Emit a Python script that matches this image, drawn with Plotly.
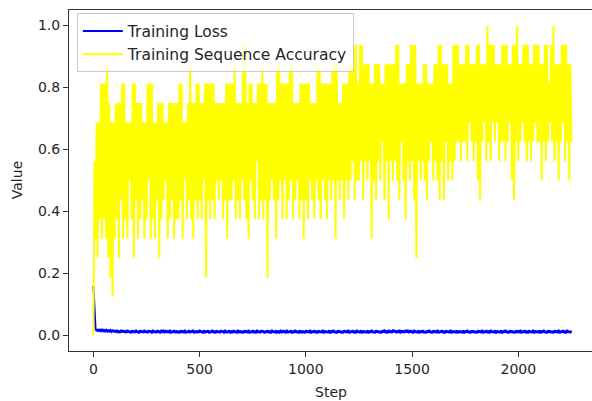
import plotly.graph_objects as go

# Steps sampled every 5 training steps (0 .. 2250)
step_interval = 5

# Training sequence accuracy in sixteenths (batch of 16 sequences)
acc_sixteenths = [
    0, 9, 5, 11, 4, 11, 6, 13, 5, 13,
    6, 13, 5, 14, 4, 12, 3, 11, 2, 11,
    5, 12, 6, 12, 4, 12, 7, 13, 5, 13,
    6, 11, 5, 11, 8, 11, 6, 13, 4, 13,
    7, 12, 5, 12, 6, 12, 7, 11, 5, 11,
    6, 13, 8, 13, 5, 13, 6, 11, 5, 11,
    7, 12, 4, 12, 6, 12, 7, 11, 8, 11,
    5, 12, 6, 12, 7, 12, 5, 12, 6, 12,
    6, 13, 7, 13, 5, 11, 8, 11, 6, 12,
    7, 14, 6, 12, 5, 12, 7, 13, 6, 13,
    7, 12, 6, 12, 8, 13, 3, 13, 7, 13,
    6, 13, 7, 13, 6, 12, 8, 12, 7, 12,
    8, 12, 6, 12, 7, 13, 5, 13, 7, 13,
    7, 13, 8, 14, 6, 12, 7, 12, 6, 12,
    8, 15, 7, 15, 6, 12, 5, 13, 8, 13,
    7, 12, 6, 12, 9, 13, 6, 13, 7, 14,
    6, 13, 7, 13, 3, 12, 7, 12, 8, 12,
    7, 12, 5, 14, 7, 14, 8, 13, 6, 13,
    8, 13, 6, 13, 7, 14, 8, 14, 6, 12,
    7, 12, 8, 12, 6, 13, 7, 13, 5, 13,
    7, 13, 6, 13, 8, 12, 7, 12, 6, 12,
    8, 14, 7, 14, 6, 13, 8, 13, 7, 13,
    6, 13, 8, 13, 7, 14, 8, 14, 5, 14,
    8, 12, 7, 12, 8, 13, 6, 13, 8, 13,
    7, 14, 8, 14, 9, 15, 7, 15, 8, 13,
    8, 15, 9, 15, 7, 14, 9, 14, 8, 14,
    9, 13, 5, 13, 8, 14, 7, 14, 9, 14,
    8, 13, 10, 13, 7, 14, 9, 14, 6, 14,
    9, 14, 8, 14, 9, 15, 8, 15, 7, 13,
    10, 13, 8, 13, 6, 14, 9, 14, 8, 15,
    9, 15, 7, 15, 4, 13, 9, 13, 8, 13,
    9, 14, 8, 14, 7, 13, 9, 13, 10, 13,
    8, 14, 9, 14, 8, 15, 7, 15, 9, 14,
    7, 14, 10, 14, 8, 13, 9, 13, 8, 15,
    9, 15, 10, 15, 10, 14, 9, 14, 10, 14,
    10, 15, 9, 15, 11, 14, 10, 14, 9, 14,
    10, 15, 8, 15, 7, 14, 10, 14, 11, 14,
    9, 16, 10, 15, 9, 15, 11, 15, 10, 14,
    11, 14, 9, 14, 10, 15, 10, 15, 9, 15,
    10, 14, 11, 14, 8, 15, 7, 15, 10, 16,
    9, 14, 10, 14, 11, 15, 10, 15, 9, 15,
    10, 14, 9, 14, 10, 15, 11, 15, 10, 15,
    10, 14, 8, 14, 10, 15, 9, 15, 10, 13,
    11, 15, 10, 16, 9, 14, 10, 14, 8, 14,
    10, 15, 11, 15, 9, 15, 10, 14, 8, 14,
    10,
]

# Training loss in thousandths
loss_milli = [
    160, 65, 22, 14, 20, 13, 21, 12, 19, 14,
    20, 11, 18, 13, 19, 10, 17, 12, 19, 11,
    17, 9, 18, 11, 16, 8, 18, 10, 17, 9,
    16, 8, 18, 10, 15, 7, 17, 9, 16, 8,
    18, 9, 15, 7, 17, 10, 16, 8, 18, 9,
    15, 8, 17, 10, 16, 7, 18, 9, 15, 8,
    17, 9, 16, 7, 18, 10, 15, 8, 17, 9,
    16, 8, 18, 7, 15, 9, 17, 8, 16, 10,
    15, 7, 17, 9, 16, 8, 18, 7, 15, 9,
    17, 8, 16, 10, 18, 7, 15, 9, 16, 8,
    18, 9, 15, 7, 17, 8, 16, 10, 17, 7,
    15, 9, 18, 8, 16, 7, 17, 9, 15, 8,
    17, 10, 16, 7, 18, 8, 15, 9, 17, 7,
    16, 8, 17, 9, 15, 7, 18, 8, 16, 10,
    15, 7, 17, 9, 16, 8, 18, 7, 15, 9,
    17, 8, 16, 7, 18, 9, 15, 8, 17, 10,
    16, 7, 15, 9, 17, 8, 16, 7, 18, 9,
    15, 8, 17, 7, 16, 10, 15, 8, 17, 9,
    16, 7, 18, 8, 15, 9, 17, 7, 16, 8,
    18, 9, 15, 7, 17, 8, 16, 10, 15, 7,
    17, 9, 16, 8, 18, 7, 15, 9, 17, 8,
    16, 7, 17, 9, 15, 8, 18, 7, 16, 9,
    15, 8, 17, 7, 16, 9, 18, 8, 15, 7,
    17, 9, 16, 8, 15, 7, 17, 10, 16, 8,
    18, 7, 15, 9, 17, 8, 16, 7, 18, 9,
    15, 8, 17, 7, 16, 9, 15, 8, 17, 7,
    16, 9, 18, 8, 15, 7, 17, 9, 16, 8,
    15, 7, 17, 9, 19, 8, 16, 7, 18, 9,
    16, 8, 19, 10, 17, 8, 16, 9, 18, 7,
    17, 9, 16, 8, 18, 10, 15, 8, 17, 9,
    16, 7, 18, 9, 15, 8, 17, 7, 16, 9,
    17, 8, 15, 7, 16, 9, 18, 8, 15, 7,
    17, 9, 16, 8, 18, 7, 15, 9, 17, 8,
    16, 7, 17, 9, 15, 8, 18, 7, 16, 9,
    15, 8, 17, 7, 16, 9, 15, 8, 17, 7,
    16, 9, 18, 8, 15, 7, 17, 9, 16, 8,
    15, 7, 17, 9, 16, 8, 18, 7, 15, 9,
    17, 8, 16, 7, 18, 9, 15, 8, 17, 7,
    16, 9, 15, 8, 17, 7, 16, 9, 18, 8,
    15, 7, 17, 9, 16, 8, 15, 7, 17, 9,
    16, 8, 18, 7, 15, 9, 17, 8, 16, 7,
    17, 9, 15, 8, 18, 7, 16, 9, 15, 8,
    17, 7, 16, 9, 18, 8, 15, 7, 17, 9,
    16, 8, 15, 7, 17, 9, 16, 8, 18, 7,
    15, 9, 17, 8, 16, 7, 18, 9, 15, 8,
    16,
]

x_ticks = [0, 500, 1000, 1500, 2000]
y_ticks = [0.0, 0.2, 0.4, 0.6, 0.8, 1.0]

steps = [i * step_interval for i in range(len(acc_sixteenths))]
accuracy = [v / 16 for v in acc_sixteenths]
loss = [v / 1000 for v in loss_milli]

FONT = "DejaVu Sans"
TXT = "#262626"

fig = go.Figure()
fig.add_trace(go.Scatter(x=steps, y=loss, mode="lines", name="Training Loss",
                         line=dict(color="#0000ff", width=2)))
fig.add_trace(go.Scatter(x=steps, y=accuracy, mode="lines", name="Training Sequence Accuracy",
                         line=dict(color="#ffff00", width=2)))

fig.update_layout(
    width=592, height=401,
    margin=dict(l=69, r=0, t=10, b=50),
    plot_bgcolor="white", paper_bgcolor="white",
    font=dict(family=FONT, size=14, color=TXT),
    showlegend=True,
    legend=dict(x=0.015, y=0.99, xanchor="left", yanchor="top",
                bgcolor="rgba(255,255,255,0.8)", bordercolor="#cccccc", borderwidth=1,
                itemwidth=40,
                font=dict(family=FONT, size=15.5, color=TXT)),
    xaxis=dict(range=[-115, 2347], tickvals=x_ticks, ticktext=[str(t) for t in x_ticks],
               showgrid=False, zeroline=False, showline=True, linecolor="#333333", linewidth=1,
               mirror=True, ticks="outside", ticklen=5, tickwidth=1, tickcolor="#333333"),
    yaxis=dict(range=[-0.05, 1.05], tickvals=y_ticks, ticktext=[f"{t:.1f}" for t in y_ticks],
               showgrid=False, zeroline=False, showline=True, linecolor="#333333", linewidth=1,
               ticks="outside", ticklen=5, tickwidth=1, tickcolor="#333333"),
    annotations=[
        dict(text="Step", xref="paper", yref="paper", x=0.5, y=-0.09, xanchor="center",
             yanchor="top", showarrow=False, font=dict(family=FONT, size=14, color=TXT)),
        dict(text="Value", xref="paper", yref="paper", x=-0.1, y=0.5, xanchor="center",
             yanchor="middle", textangle=-90, showarrow=False,
             font=dict(family=FONT, size=14, color=TXT)),
    ],
)

fig.write_html("out.html")
